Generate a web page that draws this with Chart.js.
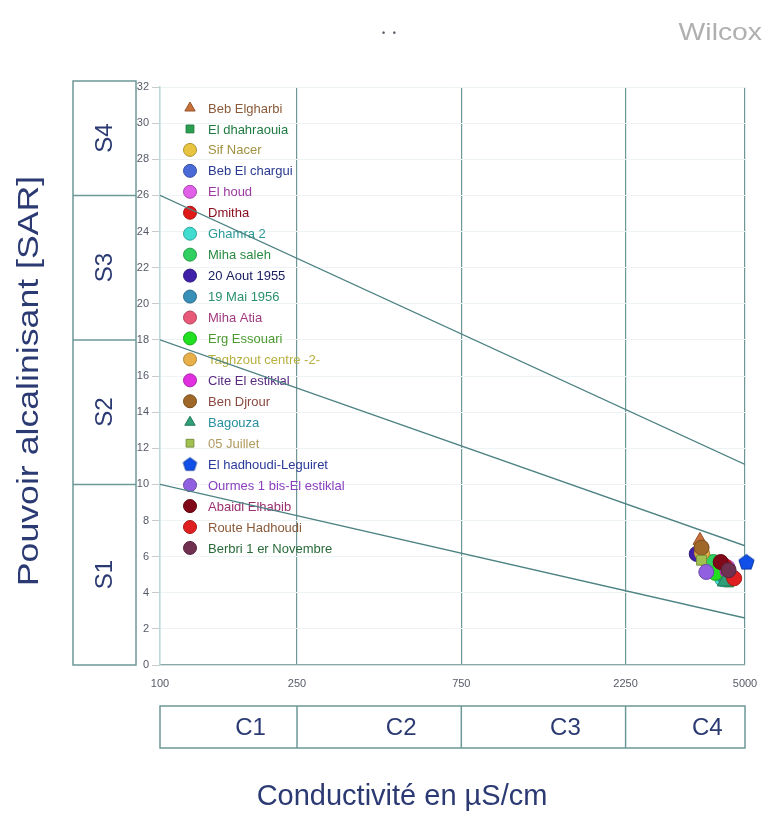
<!DOCTYPE html>
<html>
<head>
<meta charset="utf-8">
<script src="https://cdn.jsdelivr.net/npm/chart.js@4.4.1/dist/chart.umd.min.js"></script>
<style>
  html, body { margin: 0; padding: 0; background: #ffffff; }
  #wrap { width: 763px; height: 813px; position: relative; }
</style>
</head>
<body>
<div id="wrap"><canvas id="wilcox"></canvas></div>
<script>
// Sampling stations (legend order)
const stations = [
  'Beb Elgharbi', 'El dhahraouia', 'Sif Nacer', 'Beb El chargui', 'El houd',
  'Dmitha', 'Ghamra 2', 'Miha saleh', '20 Aout 1955', '19 Mai 1956',
  'Miha Atia', 'Erg Essouari', 'Taghzout centre -2-', 'Cite El estiklal',
  'Ben Djrour', 'Bagouza', '05 Juillet', 'El hadhoudi-Leguiret',
  'Ourmes 1 bis-El estiklal', 'Abaidi Elhabib', 'Route Hadhoudi',
  'Berbri 1 er Novembre'
];

// Electrical conductivity (µS/cm) per station
const conductivity = [
  3700, 4480, 3800, 4300, 4450,
  4350, 4300, 4050, 3620, 4400,
  4500, 4100, 3750, 4450,
  3740, 4350, 3740, 5050,
  3860, 4250, 4650,
  4480
];

// Sodium adsorption ratio per station
const sar = [
  6.9, 4.6, 5.9, 5.3, 5.4,
  5.5, 4.75, 5.7, 6.15, 4.8,
  5.0, 5.1, 6.2, 5.2,
  6.5, 4.6, 5.8, 5.7,
  5.15, 5.7, 4.8,
  5.25
];

// Marker fill colours
const markerColors = [
  '#c8703a', '#28a050', '#e8c440', '#4a6ad8', '#e060e8',
  '#e01818', '#40dcd0', '#30d060', '#4020a8', '#3890b8',
  '#e85878', '#20e020', '#e8b048', '#e030e0',
  '#a06828', '#30a078', '#a0c050', '#1050e8',
  '#9060e0', '#800818', '#e02020',
  '#703050'
];

// Legend text colours
const labelColors = [
  '#8a5a3a', '#1e7a40', '#a09040', '#2a3a90', '#9a3aa0',
  '#8a1020', '#2a9a98', '#2a8a40', '#1a2060', '#2a9070',
  '#a03a80', '#4a9a30', '#b8b040', '#5a2a80',
  '#8a4a40', '#2a90a0', '#b09a60', '#2a3a9a',
  '#8a40c0', '#9a3070', '#8a5a3a',
  '#2a6a3a'
];

// Marker shapes ('pentagon' is drawn on a small canvas below)
const markerStyles = [
  'triangle', 'rect', 'circle', 'circle', 'circle',
  'circle', 'circle', 'circle', 'circle', 'circle',
  'circle', 'circle', 'circle', 'circle',
  'circle', 'triangle', 'rect', 'pentagon',
  'circle', 'circle', 'circle',
  'circle'
];

// Conductivity class limits and labels
const conductivityTicks = [100, 250, 750, 2250, 5000];
const salinityClasses = ['C1', 'C2', 'C3', 'C4'];

// SAR class limits and labels
const sarLimits = [0, 10, 18, 26, 32];
const sodiumClasses = ['S1', 'S2', 'S3', 'S4'];

// Class boundary lines: SAR at 100 and 5000 µS/cm
const boundaryEc = [100, 5000];
const limitS1S2 = [10, 2.6];
const limitS2S3 = [18, 6.6];
const limitS3S4 = [26, 11.1];

const FONT = "'Liberation Sans', Arial, sans-serif";
const NAVY = '#2b3a72';
const BOX = '#6d9898';

function darker(hex, f) {
  const n = parseInt(hex.slice(1), 16);
  const r = Math.round(((n >> 16) & 255) * f);
  const g = Math.round(((n >> 8) & 255) * f);
  const b = Math.round((n & 255) * f);
  return 'rgb(' + r + ',' + g + ',' + b + ')';
}

function pentagonMarker(color, rad) {
  const size = Math.ceil(rad * 2 + 3);
  const c = document.createElement('canvas');
  c.width = size; c.height = size;
  const x = c.getContext('2d');
  x.beginPath();
  for (let k = 0; k < 5; k++) {
    const a = -Math.PI / 2 + k * 2 * Math.PI / 5;
    const px = size / 2 + rad * Math.cos(a), py = size / 2 + 0.5 + rad * Math.sin(a);
    if (k === 0) x.moveTo(px, py); else x.lineTo(px, py);
  }
  x.closePath();
  x.fillStyle = color; x.fill();
  x.strokeStyle = darker(color, 0.7); x.lineWidth = 1; x.stroke();
  return c;
}

const plotPentagon = pentagonMarker(markerColors[17], 8);
const legendPentagon = pentagonMarker(markerColors[17], 7);

// Later stations are painted over earlier ones
const stationSets = stations.map((name, i) => ({
  label: name,
  data: [{ x: conductivity[i], y: sar[i] }],
  order: stations.length - i,
  pointStyle: markerStyles[i] === 'pentagon' ? plotPentagon : markerStyles[i],
  pointRadius: markerStyles[i] === 'rect' ? 7 : (markerStyles[i] === 'triangle' ? 8 : 7.5),
  pointHoverRadius: 8,
  backgroundColor: markerColors[i],
  borderColor: darker(markerColors[i], 0.75),
  borderWidth: 1,
  showLine: false,
  clip: false
}));

function boundary(values) {
  return {
    label: '',
    data: boundaryEc.map((x, k) => ({ x: x, y: values[k] })),
    order: 100,
    showLine: true,
    borderColor: '#4d8282',
    borderWidth: 1.3,
    pointRadius: 0,
    fill: false
  };
}

const boundarySets = [boundary(limitS3S4), boundary(limitS2S3), boundary(limitS1S2)];

const decorations = {
  id: 'decorations',
  beforeDatasetsDraw(chart) {
    const ctx = chart.ctx;
    const area = chart.chartArea;
    ctx.save();

    // Legend inside the plot
    ctx.font = '13px ' + FONT;
    ctx.textBaseline = 'middle';
    ctx.textAlign = 'left';
    const lx = area.left + 30, ly0 = area.top + 21, step = 20.95;
    stations.forEach((name, i) => {
      const y = ly0 + i * step;
      const st = markerStyles[i];
      if (st === 'pentagon') {
        ctx.drawImage(legendPentagon, lx - legendPentagon.width / 2, y - legendPentagon.height / 2);
      } else {
        ctx.fillStyle = markerColors[i];
        ctx.strokeStyle = darker(markerColors[i], 0.75);
        ctx.lineWidth = 1;
        Chart.helpers.drawPoint(ctx, { pointStyle: st, radius: st === 'triangle' ? 6 : (st === 'rect' ? 5.5 : 6.5), borderWidth: 1 }, lx, y);
      }
      ctx.fillStyle = labelColors[i];
      ctx.fillText(name, lx + 18, y + 1);
    });
    ctx.restore();
  },
  afterDraw(chart) {
    const ctx = chart.ctx;
    const area = chart.chartArea;
    const xs = chart.scales.x;
    const ys = chart.scales.y;
    ctx.save();
    ctx.strokeStyle = BOX;
    ctx.lineWidth = 1.5;

    // SAR class column
    const bl = 73, br = 136;
    const boxTop = area.top - 6;
    ctx.strokeRect(bl, boxTop, br - bl, area.bottom - boxTop);
    for (let k = 1; k < sarLimits.length - 1; k++) {
      const y = ys.getPixelForValue(sarLimits[k]);
      ctx.beginPath(); ctx.moveTo(bl, y); ctx.lineTo(br, y); ctx.stroke();
    }
    ctx.fillStyle = NAVY;
    ctx.font = '24px ' + FONT;
    ctx.textAlign = 'center';
    ctx.textBaseline = 'middle';
    sodiumClasses.forEach((lab, k) => {
      const y0 = k === sodiumClasses.length - 1 ? boxTop : ys.getPixelForValue(sarLimits[k + 1]);
      const y1 = ys.getPixelForValue(sarLimits[k]);
      ctx.save();
      ctx.translate((bl + br) / 2, (y0 + y1) / 2);
      ctx.rotate(-Math.PI / 2);
      ctx.fillText(lab, 0, 1);
      ctx.restore();
    });

    // Conductivity class row
    const ct = area.bottom + 41, cb = area.bottom + 83;
    ctx.strokeRect(area.left, ct, area.right - area.left, cb - ct);
    for (let k = 1; k < conductivityTicks.length - 1; k++) {
      const x = xs.getPixelForValue(conductivityTicks[k]);
      ctx.beginPath(); ctx.moveTo(x, ct); ctx.lineTo(x, cb); ctx.stroke();
    }
    salinityClasses.forEach((lab, k) => {
      const x0 = xs.getPixelForValue(conductivityTicks[k]);
      const x1 = xs.getPixelForValue(conductivityTicks[k + 1]);
      ctx.fillText(lab, (x0 + x1) / 2 + 22, (ct + cb) / 2 + 1);
    });

    // Axis titles
    ctx.font = '29px ' + FONT;
    ctx.fillText('Conductivité en µS/cm', 402, 797);
    ctx.save();
    ctx.translate(30, 381);
    ctx.rotate(-Math.PI / 2);
    ctx.scale(1.23, 1);
    ctx.fillText('Pouvoir alcalinisant [SAR]', 0, 0);
    ctx.restore();

    // Header
    ctx.fillStyle = '#b0b0b0';
    ctx.font = '24px ' + FONT;
    ctx.textAlign = 'right';
    ctx.save();
    ctx.translate(762, 33);
    ctx.scale(1.18, 1);
    ctx.fillText('Wilcox', 0, 0);
    ctx.restore();
    ctx.fillStyle = '#555a66';
    ctx.font = 'bold 9px ' + FONT;
    ctx.textAlign = 'left';
    ctx.fillText('•   •', 382, 34);
    ctx.restore();
  }
};

new Chart(document.getElementById('wilcox'), {
  type: 'scatter',
  data: { datasets: stationSets.concat(boundarySets) },
  options: {
    responsive: true,
    maintainAspectRatio: false,
    animation: false,
    layout: { padding: { left: 120, top: 87, right: 18, bottom: 118 } },
    plugins: {
      legend: { display: false },
      tooltip: { enabled: false }
    },
    scales: {
      x: {
        type: 'logarithmic',
        min: conductivityTicks[0],
        max: conductivityTicks[conductivityTicks.length - 1],
        afterBuildTicks(scale) { scale.ticks = conductivityTicks.map(v => ({ value: v })); },
        afterFit(scale) { scale.height = 30; scale.paddingRight = 0; scale.paddingLeft = 0; },
        ticks: {
          callback: (v) => String(v),
          font: { size: 11, family: FONT },
          color: '#555a66',
          padding: 12,
          maxRotation: 0,
          autoSkip: false
        },
        grid: {
          drawTicks: false,
          color: (c) => c.tick && c.tick.value === 100 ? '#bcd8d8' : '#6f9696',
          lineWidth: 1.2
        },
        border: { color: '#8aa6a6', width: 1.2 }
      },
      y: {
        min: 0,
        max: 32,
        afterFit(scale) { scale.width = 40; },
        ticks: {
          stepSize: 2,
          font: { size: 11, family: FONT },
          color: '#555a66',
          padding: 3
        },
        grid: {
          color: '#eef3f3',
          tickColor: '#c8cccc',
          tickLength: 8,
          lineWidth: 1
        },
        border: { color: '#bcd8d8', width: 1.5 }
      }
    }
  },
  plugins: [decorations]
});
</script>
</body>
</html>
